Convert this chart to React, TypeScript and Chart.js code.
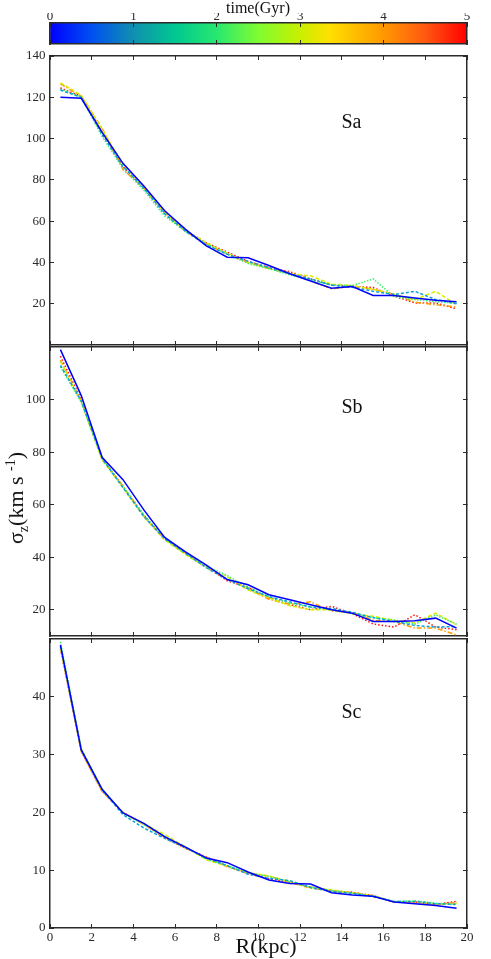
import React, { useEffect, useRef } from 'react';
import { Chart, registerables } from 'chart.js';

Chart.register(...registerables);

const W = 491;
const H = 959;
const FONT = "'Liberation Serif', 'Times New Roman', Times, serif";
const INK = '#2a2a2a';

// ---- data ----
const RADII = [0.5, 1.5, 2.5, 3.5, 4.5, 5.5, 6.5, 7.5, 8.5, 9.5, 10.5, 11.5, 12.5, 13.5, 14.5, 15.5, 16.5, 17.5, 18.5, 19.5];
const X_TICKS = [0, 2, 4, 6, 8, 10, 12, 14, 16, 18, 20];
const TIME_TICKS = [0, 1, 2, 3, 4, 5];
const TIMES = [0, 1, 2, 3, 4, 5];

const SA_Y_TICKS = [20, 40, 60, 80, 100, 120, 140];
const SB_Y_TICKS = [20, 40, 60, 80, 100];
const SC_Y_TICKS = [0, 10, 20, 30, 40];

const SA_T0 = [120, 119.5, 103, 88, 77, 65, 56, 48, 42.5, 42.3, 38.5, 34.5, 31, 27.5, 28.3, 24, 24, 22.8, 21.7, 20.9];
const SA_T1 = [123.5, 120, 102, 86.5, 76, 63.5, 55, 48.5, 44, 40.5, 37.5, 34.5, 32, 29, 28, 26, 24.5, 26, 22, 20];
const SA_T2 = [124, 120, 101, 85.5, 75, 62.5, 55, 49, 44, 39.5, 37, 34, 31.5, 29, 28.8, 32, 23.5, 22, 21, 20.2];
const SA_T3 = [127, 121, 104.5, 87.5, 76.5, 64, 55.5, 49.5, 44.5, 40, 37, 34.5, 33.5, 29.5, 28.8, 27, 24.5, 22, 26, 19.5];
const SA_T4 = [126.5, 120.5, 105, 85, 76, 64.5, 55, 49, 44, 40, 37, 35, 31, 27.3, 28.3, 27, 24.7, 20.7, 19.5, 18.4];
const SA_T5 = [124.5, 120.5, 103, 86.5, 76, 64, 55.5, 49.5, 45, 40.5, 37.5, 35.5, 32, 29, 28.5, 27.8, 23.7, 20.4, 20.4, 17.5];

const SB_T0 = [119, 101.5, 78, 69.5, 58, 47.5, 42, 37, 31.5, 29.5, 25.7, 23.8, 21.9, 20, 18.7, 15.5, 15.5, 15.8, 16.8, 13];
const SB_T1 = [113, 99.5, 77.5, 66.5, 55.5, 47, 41.5, 36, 31.5, 28, 25, 23, 21, 20.5, 19, 17, 15.5, 14, 13.4, 13.6];
const SB_T2 = [112.5, 99, 77.5, 67, 56, 47, 41.5, 36.5, 33, 28.5, 25, 22.5, 21, 20, 18.5, 17, 16, 14.5, 18, 14.5];
const SB_T3 = [114.5, 99, 77, 66.5, 55.5, 46.5, 41, 36, 32.5, 27.5, 24.5, 21.5, 20, 20, 18.5, 17.5, 16, 15, 18.7, 14.3];
const SB_T4 = [115, 99.5, 77.5, 67, 55.5, 47, 41.5, 36, 31.5, 28, 24, 22, 23, 19.5, 19, 16, 15.5, 13, 13, 10.4];
const SB_T5 = [116.5, 100, 77.5, 67, 56, 47, 41.5, 36.5, 31, 28.5, 24.5, 22, 20, 21.3, 18.5, 14.6, 13.4, 18.1, 13.4, 12.4];

const SC_T0 = [49, 30.8, 24, 19.9, 18.1, 15.8, 14, 12.1, 11.3, 9.7, 8.3, 7.7, 7.6, 6.1, 5.7, 5.5, 4.5, 4.2, 3.9, 3.4];
const SC_T1 = [48.8, 30.8, 23.9, 19.6, 17.3, 15.5, 13.9, 12.1, 10.8, 9.3, 8.6, 8.2, 7, 6.3, 6, 5.4, 4.6, 4.6, 4.2, 4.1];
const SC_T2 = [49.5, 31, 24, 19.9, 17.9, 15.8, 14, 11.9, 10.8, 9.5, 8.9, 8, 7.1, 6.5, 6, 5.5, 4.6, 4.7, 4.3, 4.0];
const SC_T3 = [48.5, 31, 24, 19.9, 18, 16.2, 14, 11.8, 10.7, 9.6, 9, 8, 7, 6.6, 6.1, 5.6, 4.5, 4.6, 4.2, 4.2];
const SC_T4 = [48.6, 30.5, 23.6, 20, 17.9, 15.7, 13.8, 12.2, 10.6, 9.5, 9, 7.9, 6.9, 6.4, 6.1, 5.5, 4.5, 4.4, 4.1, 4.4];
const SC_T5 = [48.3, 30.6, 23.7, 20, 18, 15.6, 13.8, 12.3, 10.7, 9.4, 8.5, 7.9, 7.1, 6.4, 6.2, 5.6, 4.5, 4.5, 4.1, 4.6];

// ---- styles ----
const STYLES = [
  { color: '#0000ff', dash: [] as number[] },
  { color: '#0aa0dc', dash: [3, 2] },
  { color: '#3cf06a', dash: [1.5, 1.5] },
  { color: '#d8ee00', dash: [4, 2] },
  { color: '#ff9c00', dash: [5, 2, 1.5, 2] },
  { color: '#ff1010', dash: [1.5, 2] },
];

const COLORBAR_STOPS: [number, string][] = [
  [0, '#0000ff'], [0.1, '#0050f0'], [0.2, '#1090b0'], [0.3, '#00c890'], [0.4, '#28e870'],
  [0.5, '#80fc30'], [0.6, '#c8f000'], [0.67, '#ffe000'], [0.8, '#ff9800'], [0.9, '#ff5810'], [1, '#ff0000'],
];

const PLOT_LEFT = 50;
const PLOT_RIGHT = 467;

function fixedSize(size: number) {
  return (scale: any) => {
    if (scale.isHorizontal()) scale.height = size;
    else scale.width = size;
  };
}
function setTicks(values: number[]) {
  return (scale: any) => {
    scale.ticks = values.map((v) => ({ value: v }));
  };
}

const tickFont = { family: FONT, size: 13 };

function panelConfig(series: number[][], yMin: number, yMax: number, yTicks: number[], top: number, bottom: number, showX: boolean): any {
  const bottomH = showX ? 25 : 10;
  const grid = { drawOnChartArea: false, drawTicks: true, tickLength: -4, color: INK, lineWidth: 1 };
  const border = { display: true, color: INK, width: 1.5 };
  return {
    type: 'line',
    data: {
      datasets: series.map((vals, i) => ({
        label: `${TIMES[i]} Gyr`,
        data: RADII.map((r, j) => ({ x: r, y: vals[j] })),
        borderColor: STYLES[i].color,
        borderDash: STYLES[i].dash,
        borderWidth: 1.5,
        pointRadius: 0,
        fill: false,
        tension: 0,
      })),
    },
    options: {
      responsive: false,
      animation: false,
      events: [],
      layout: { padding: { left: PLOT_LEFT - 40, right: W - PLOT_RIGHT - 10, top: top - 10, bottom: H - bottom - bottomH } },
      plugins: { legend: { display: false }, tooltip: { enabled: false } },
      scales: {
        x: {
          type: 'linear', position: 'bottom', min: 0, max: 20,
          afterBuildTicks: setTicks(X_TICKS), afterFit: fixedSize(bottomH),
          grid, border,
          ticks: { display: showX, font: tickFont, color: INK, padding: 5.5, maxRotation: 0 },
        },
        xTop: {
          type: 'linear', position: 'top', min: 0, max: 20,
          afterBuildTicks: setTicks(X_TICKS), afterFit: fixedSize(10),
          grid, border, ticks: { display: false },
        },
        y: {
          type: 'linear', position: 'left', min: yMin, max: yMax,
          afterBuildTicks: setTicks(yTicks), afterFit: fixedSize(40),
          grid, border,
          ticks: { font: tickFont, color: INK, padding: 8.5 },
        },
        yRight: {
          type: 'linear', position: 'right', min: yMin, max: yMax,
          afterBuildTicks: setTicks(yTicks), afterFit: fixedSize(10),
          grid, border, ticks: { display: false },
        },
      },
    },
  };
}

function colorbarConfig(): any {
  const grid = { drawOnChartArea: false, drawTicks: true, tickLength: -4, color: INK, lineWidth: 1, z: 1 };
  const border = { display: true, color: INK, width: 1.5, z: 1 };
  const top = 23;
  const bottom = 44;
  return {
    type: 'bar',
    data: {
      labels: [''],
      datasets: [{
        label: 'time(Gyr)',
        data: [TIME_TICKS[TIME_TICKS.length - 1]],
        backgroundColor: (ctx: any) => {
          const chart = ctx.chart;
          if (!chart.chartArea) return '#0000ff';
          const xs = chart.scales.x;
          const g = chart.ctx.createLinearGradient(xs.getPixelForValue(TIME_TICKS[0]), 0, xs.getPixelForValue(TIME_TICKS[TIME_TICKS.length - 1]), 0);
          COLORBAR_STOPS.forEach(([o, c]) => g.addColorStop(o, c));
          return g;
        },
        borderWidth: 0,
        barPercentage: 1,
        categoryPercentage: 1,
      }],
    },
    options: {
      indexAxis: 'y',
      responsive: false,
      animation: false,
      events: [],
      layout: { padding: { left: PLOT_LEFT - 10, right: W - PLOT_RIGHT - 10, top: top - 10, bottom: H - bottom - 10 } },
      plugins: { legend: { display: false }, tooltip: { enabled: false } },
      scales: {
        x: {
          type: 'linear', position: 'top', min: 0, max: 5,
          afterBuildTicks: setTicks(TIME_TICKS), afterFit: fixedSize(10),
          grid, border,
          ticks: { font: tickFont, color: INK, padding: 3 },
        },
        xBottom: {
          type: 'linear', position: 'bottom', min: 0, max: 5,
          afterBuildTicks: setTicks(TIME_TICKS), afterFit: fixedSize(10),
          grid, border, ticks: { display: false },
        },
        y: {
          type: 'category', position: 'left', afterFit: fixedSize(10),
          grid: { display: false }, border, ticks: { display: false },
        },
        yRight: {
          type: 'category', position: 'right', labels: [''], afterFit: fixedSize(10),
          grid: { display: false }, border, ticks: { display: false },
        },
      },
    },
  };
}

const canvasStyle: React.CSSProperties = { position: 'absolute', left: 0, top: 0, width: W, height: H };

export default function App() {
  const cbRef = useRef<HTMLCanvasElement>(null);
  const aRef = useRef<HTMLCanvasElement>(null);
  const bRef = useRef<HTMLCanvasElement>(null);
  const cRef = useRef<HTMLCanvasElement>(null);

  useEffect(() => {
    const charts: Chart[] = [];
    charts.push(new Chart(cbRef.current!, colorbarConfig()));
    charts.push(new Chart(aRef.current!, panelConfig([SA_T0, SA_T1, SA_T2, SA_T3, SA_T4, SA_T5], 0, 140, SA_Y_TICKS, 56, 345, false)));
    charts.push(new Chart(bRef.current!, panelConfig([SB_T0, SB_T1, SB_T2, SB_T3, SB_T4, SB_T5], 10, 120, SB_Y_TICKS, 347, 636, false)));
    charts.push(new Chart(cRef.current!, panelConfig([SC_T0, SC_T1, SC_T2, SC_T3, SC_T4, SC_T5], 0, 50, SC_Y_TICKS, 639, 928, true)));
    return () => charts.forEach((c) => c.destroy());
  }, []);

  const text: React.CSSProperties = { position: 'absolute', fontFamily: FONT, color: '#111', whiteSpace: 'nowrap' };

  return (
    <div style={{ position: 'absolute', left: 0, top: 0, width: W, height: H, background: '#fff', overflow: 'hidden' }}>
      <canvas ref={cbRef} width={W} height={H} style={canvasStyle} />
      <canvas ref={aRef} width={W} height={H} style={canvasStyle} />
      <canvas ref={bRef} width={W} height={H} style={canvasStyle} />
      <canvas ref={cRef} width={W} height={H} style={canvasStyle} />
      <div style={{ ...text, left: 258, top: -1, fontSize: 16, lineHeight: '18px', transform: 'translateX(-50%)' }}>time(Gyr)</div>
      <div style={{ ...text, left: 341.5, top: 111, fontSize: 20, lineHeight: '20px' }}>Sa</div>
      <div style={{ ...text, left: 341.5, top: 396, fontSize: 20, lineHeight: '20px' }}>Sb</div>
      <div style={{ ...text, left: 341.5, top: 701, fontSize: 20, lineHeight: '20px' }}>Sc</div>
      <div style={{ ...text, left: 266, top: 934.5, fontSize: 22, lineHeight: '22px', transform: 'translateX(-50%)' }}>R(kpc)</div>
      <div style={{ ...text, left: 16, top: 498, fontSize: 22, lineHeight: '22px', transform: 'translate(-50%, -50%) rotate(-90deg)' }}>
        σ<sub style={{ fontSize: 14, lineHeight: 0 }}>z</sub>(km s <sup style={{ fontSize: 14, lineHeight: 0 }}>-1</sup>)
      </div>
    </div>
  );
}
